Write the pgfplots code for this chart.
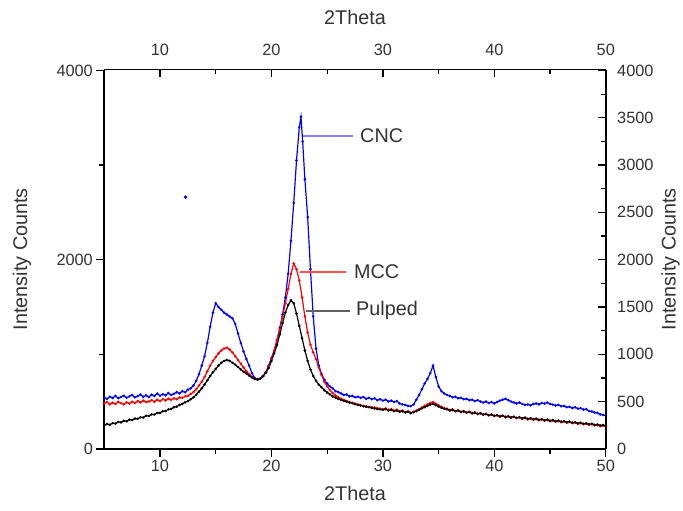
\documentclass[border=0pt]{standalone}
\usepackage{fontspec}
\setmainfont{Liberation Sans}
\usepackage{pgfplots}
\usepackage{pgfplotstable}
\pgfplotsset{compat=1.18}
\definecolor{txt}{HTML}{333333}
\definecolor{cncl}{HTML}{8080FF}
\definecolor{mccl}{HTML}{FF5050}
\definecolor{pull}{HTML}{606060}

\pgfplotstableread{
x y
5.00 545
5.25 528
5.50 552
5.75 538
6.00 560
6.25 535
6.50 548
6.75 562
7.00 540
7.25 555
7.50 570
7.75 545
8.00 558
8.25 575
8.50 550
8.75 566
9.00 548
9.25 572
9.50 560
9.75 585
10.00 562
10.25 578
10.50 566
10.75 590
11.00 570
11.25 582
11.50 600
11.75 585
12.00 610
12.25 598
12.50 625
12.75 640
13.00 670
13.25 720
13.50 790
13.75 880
14.00 980
14.25 1120
14.50 1290
14.75 1440
15.00 1540
15.25 1500
15.50 1470
15.75 1440
16.00 1420
16.25 1400
16.50 1380
16.75 1320
17.00 1220
17.25 1120
17.50 1030
17.75 950
18.00 880
18.25 800
18.50 750
18.75 730
19.00 745
19.25 770
19.50 810
19.75 880
20.00 960
20.25 1040
20.50 1150
20.75 1280
21.00 1420
21.25 1600
21.50 1850
21.75 2200
22.00 2600
22.25 3050
22.50 3400
22.65 3510
22.80 3250
23.00 2850
23.25 2450
23.50 1900
23.75 1400
24.00 1060
24.25 880
24.50 790
24.75 730
25.00 690
25.25 660
25.50 640
25.75 610
26.00 600
26.25 585
26.50 570
26.75 575
27.00 555
27.25 560
27.50 545
27.75 552
28.00 540
28.25 548
28.50 530
28.75 540
29.00 525
29.25 535
29.50 515
29.75 525
30.00 510
30.25 520
30.50 500
30.75 510
31.00 495
31.25 505
31.50 480
31.75 470
32.00 465
32.25 455
32.50 450
32.75 470
33.00 520
33.25 570
33.50 630
33.75 690
34.00 740
34.25 800
34.50 880
34.75 760
35.00 660
35.25 610
35.50 585
35.75 570
36.00 560
36.25 545
36.50 550
36.75 535
37.00 540
37.25 525
37.50 530
37.75 515
38.00 520
38.25 505
38.50 515
38.75 500
39.00 490
39.25 500
39.50 485
39.75 495
40.00 480
40.25 495
40.50 510
40.75 520
41.00 530
41.25 515
41.50 500
41.75 490
42.00 480
42.25 490
42.50 475
42.75 465
43.00 470
43.25 460
43.50 475
43.75 480
44.00 470
44.25 485
44.50 478
44.75 490
45.00 475
45.25 468
45.50 458
45.75 465
46.00 450
46.25 455
46.50 440
46.75 445
47.00 432
47.25 440
47.50 425
47.75 430
48.00 415
48.25 420
48.50 400
48.75 395
49.00 385
49.25 380
49.50 365
49.75 360
50.00 350
}\cnc

\pgfplotstableread{
x y
5.00 480
5.25 495
5.50 470
5.75 488
6.00 475
6.25 498
6.50 482
6.75 470
7.00 492
7.25 478
7.50 500
7.75 485
8.00 505
8.25 490
8.50 510
8.75 495
9.00 500
9.25 515
9.50 498
9.75 520
10.00 505
10.25 525
10.50 512
10.75 530
11.00 518
11.25 535
11.50 525
11.75 545
12.00 540
12.25 555
12.50 560
12.75 580
13.00 600
13.25 630
13.50 670
13.75 710
14.00 760
14.25 820
14.50 880
14.75 930
15.00 970
15.25 1010
15.50 1040
15.75 1060
16.00 1070
16.25 1050
16.50 1020
16.75 980
17.00 940
17.25 900
17.50 860
17.75 820
18.00 790
18.25 760
18.50 740
18.75 735
19.00 745
19.25 770
19.50 810
19.75 870
20.00 950
20.25 1040
20.50 1150
20.75 1270
21.00 1400
21.25 1540
21.50 1690
21.75 1850
22.00 1960
22.25 1900
22.50 1780
22.75 1600
23.00 1400
23.25 1230
23.50 1100
23.75 1020
24.00 950
24.25 860
24.50 780
24.75 710
25.00 660
25.25 620
25.50 590
25.75 565
26.00 545
26.25 530
26.50 518
26.75 505
27.00 495
27.25 488
27.50 478
27.75 470
28.00 462
28.25 455
28.50 450
28.75 445
29.00 440
29.25 436
29.50 430
29.75 425
30.00 420
30.25 428
30.50 412
30.75 420
31.00 405
31.25 415
31.50 398
31.75 405
32.00 388
32.25 398
32.50 380
32.75 392
33.00 405
33.25 420
33.50 438
33.75 455
34.00 470
34.25 485
34.50 495
34.75 478
35.00 460
35.25 445
35.50 430
35.75 425
36.00 410
36.25 418
36.50 400
36.75 408
37.00 392
37.25 400
37.50 385
37.75 392
38.00 378
38.25 385
38.50 370
38.75 378
39.00 362
39.25 370
39.50 355
39.75 362
40.00 348
40.25 356
40.50 340
40.75 350
41.00 335
41.25 344
41.50 330
41.75 338
42.00 325
42.25 333
42.50 318
42.75 326
43.00 312
43.25 320
43.50 308
43.75 315
44.00 302
44.25 310
44.50 298
44.75 305
45.00 292
45.25 300
45.50 288
45.75 294
46.00 282
46.25 290
46.50 276
46.75 284
47.00 272
47.25 278
47.50 265
47.75 272
48.00 260
48.25 266
48.50 255
48.75 260
49.00 248
49.25 252
49.50 240
49.75 245
50.00 238
}\mcc

\pgfplotstableread{
x y
5.00 250
5.25 262
5.50 255
5.75 272
6.00 268
6.25 285
6.50 280
6.75 296
7.00 292
7.25 308
7.50 305
7.75 320
8.00 318
8.25 334
8.50 332
8.75 350
9.00 348
9.25 365
9.50 362
9.75 380
10.00 380
10.25 398
10.50 400
10.75 418
11.00 422
11.25 440
11.50 446
11.75 465
12.00 475
12.25 492
12.50 505
12.75 525
13.00 545
13.25 572
13.50 605
13.75 640
14.00 680
14.25 725
14.50 770
14.75 810
15.00 845
15.25 880
15.50 910
15.75 930
16.00 940
16.25 930
16.50 910
16.75 890
17.00 865
17.25 840
17.50 815
17.75 795
18.00 775
18.25 755
18.50 740
18.75 735
19.00 745
19.25 770
19.50 805
19.75 855
20.00 930
20.25 1010
20.50 1100
20.75 1210
21.00 1330
21.25 1440
21.50 1520
21.75 1570
22.00 1540
22.25 1430
22.50 1300
22.75 1170
23.00 1040
23.25 930
23.50 840
23.75 770
24.00 720
24.25 680
24.50 650
24.75 620
25.00 595
25.25 575
25.50 555
25.75 540
26.00 528
26.25 518
26.50 508
26.75 498
27.00 490
27.25 482
27.50 472
27.75 465
28.00 458
28.25 450
28.50 445
28.75 440
29.00 434
29.25 428
29.50 422
29.75 418
30.00 412
30.25 420
30.50 405
30.75 412
31.00 398
31.25 405
31.50 392
31.75 398
32.00 385
32.25 392
32.50 378
32.75 388
33.00 398
33.25 412
33.50 428
33.75 442
34.00 455
34.25 468
34.50 475
34.75 462
35.00 448
35.25 435
35.50 425
35.75 418
36.00 405
36.25 412
36.50 398
36.75 405
37.00 390
37.25 396
37.50 382
37.75 390
38.00 376
38.25 382
38.50 370
38.75 376
39.00 362
39.25 368
39.50 356
39.75 362
40.00 350
40.25 356
40.50 344
40.75 350
41.00 338
41.25 345
41.50 332
41.75 340
42.00 328
42.25 335
42.50 322
42.75 330
43.00 318
43.25 324
43.50 312
43.75 320
44.00 308
44.25 315
44.50 302
44.75 310
45.00 298
45.25 304
45.50 292
45.75 298
46.00 288
46.25 292
46.50 282
46.75 288
47.00 276
47.25 282
47.50 270
47.75 276
48.00 265
48.25 270
48.50 260
48.75 266
49.00 254
49.25 258
49.50 248
49.75 252
50.00 245
}\pulped

\begin{document}
\begin{tikzpicture}
\pgfplotsset{
  common/.style={
    scale only axis, width=505bp, height=382bp,
    xmin=5, xmax=50, ymin=0, ymax=4010,
    axis line style={line width=1.6bp, black},
    major tick style={line width=1.4bp, black},
    minor tick style={line width=1.2bp, black},
    major tick length=8bp, minor tick length=5bp,
    tick label style={font=\fontsize{16.5}{18}\selectfont, text=txt},
    label style={font=\fontsize{20}{22}\selectfont, text=txt},
    /pgf/number format/assume math mode=true,
    /pgf/number format/1000 sep={},
    scaled ticks=false,
    xtick={10,20,30,40,50}, minor xtick={15,25,35,45},
  }
}
\begin{axis}[common,
  axis x line*=bottom, axis y line*=left, tick align=outside,
  ytick={0,2000,4000}, minor ytick={1000,3000},
  xlabel={2Theta}, ylabel={Intensity Counts},
  xlabel style={at={(axis description cs:0.5,-0.118)}, anchor=center},
  ylabel style={at={(axis description cs:-0.164,0.5)}, anchor=center},
  clip=false,
]
\addplot[blue, line width=1.2bp, mark=*, mark size=0.6bp] table {\cnc};
\addplot[red, line width=1.2bp, mark=*, mark size=0.6bp] table {\mcc};
\addplot[black, line width=1.2bp, mark=*, mark size=0.6bp] table {\pulped};
\addplot[only marks, blue, mark=*, mark size=1.6bp] coordinates {(12.3,2660)};
\addplot[cncl, line width=1.6bp] coordinates {(22.86,3309) (27.32,3309)};
\addplot[mccl, line width=1.6bp] coordinates {(22.59,1870) (26.70,1870)};
\addplot[pull, line width=1.6bp] coordinates {(23.10,1460) (27.05,1460)};
\node[anchor=west, inner sep=0, text=txt, font=\fontsize{20}{22}\selectfont] at (axis cs:27.95,3309) {CNC};
\node[anchor=west, inner sep=0, text=txt, font=\fontsize{20}{22}\selectfont] at (axis cs:27.41,1870) {MCC};
\node[anchor=west, inner sep=0, text=txt, font=\fontsize{20}{22}\selectfont] at (axis cs:27.59,1460) {Pulped};
\end{axis}
\begin{axis}[common,
  axis x line*=top, axis y line*=right, tick align=inside,
  ytick={0,500,...,4000}, minor ytick={250,750,...,3750},
  xticklabel style={yshift=10bp},
  yticklabel style={xshift=8bp},
  xlabel={2Theta}, ylabel={Intensity Counts},
  xlabel style={at={(axis description cs:0.5,1.136)}, anchor=center},
  ylabel style={at={(axis description cs:1.129,0.5)}, anchor=center, rotate=0},
]
\end{axis}
\path[use as bounding box] (-105bp,-62bp) rectangle (578bp,452bp);
\end{tikzpicture}
\end{document}
